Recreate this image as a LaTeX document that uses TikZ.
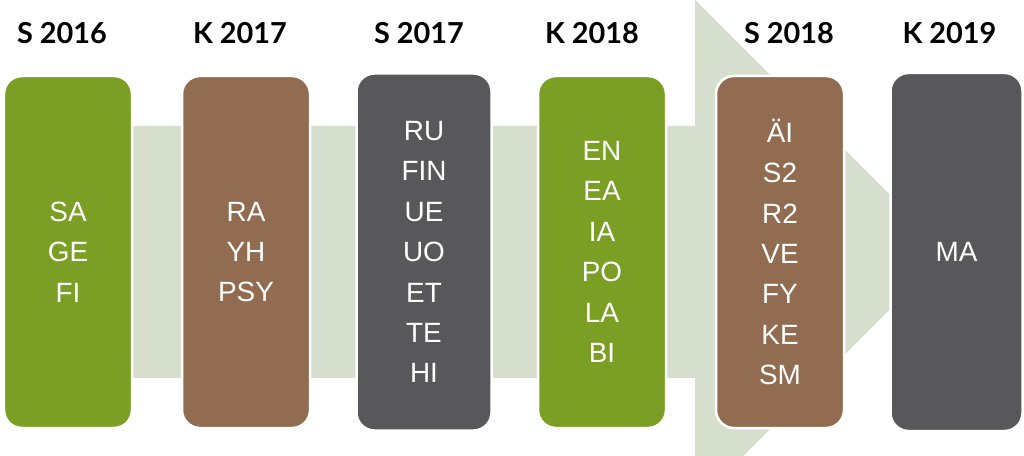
\documentclass[tikz,border=0pt]{standalone}
\usepackage{fontspec}
\setmainfont{Liberation Sans}
\newfontfamily\termfont{Lato}
\usetikzlibrary{positioning}

\definecolor{kgreen}{RGB}{123,159,36}
\definecolor{kbrown}{RGB}{145,108,80}
\definecolor{kgray}{RGB}{88,88,90}
\definecolor{kpale}{RGB}{214,222,205}

\begin{document}
\begin{tikzpicture}[x=1bp,y=-1bp,node distance=178bp,on grid,
  course/.style={rectangle,rounded corners=18bp,draw=white,line width=2.5bp,
    minimum width=128bp,minimum height=352bp,inner sep=0pt,text=white,
    font=\fontsize{28}{40.6}\selectfont,align=center},
  term/.style={font=\termfont\bfseries\fontsize{29}{31}\selectfont,text=black}]

   \useasboundingbox (0,0) rectangle (1024,456);

   % big arrow behind the boxes
   \begin{scope}
     \clip (0,0) rectangle (1024,456);
     \fill[kpale] (20,126) -- (695,126) -- (695,0) -- (947,252)
       -- (695,504) -- (695,378) -- (20,378) -- cycle;
   \end{scope}

   \node[course,fill=kgreen] (s16) at (68,252) {SA\\GE\\FI};
   \node[course,fill=kbrown] (k17) [right=of s16] {RA\\YH\\PSY};
   \node[course,fill=kgray,minimum width=135bp,minimum height=357bp] (s17) [right=of k17] {RU\\FIN\\UE\\UO\\ET\\TE\\HI};
   \node[course,fill=kgreen] (k18) [right=of s17] {EN\\EA\\IA\\PO\\LA\\BI};
   \node[course,fill=kbrown] (s18) [right=of k18] {ÄI\\S2\\R2\\VE\\FY\\KE\\SM};
   \node[course,fill=kgray,minimum width=132bp,minimum height=358bp] (k19) [right=of s18,xshift=-1.5bp] {MA};

   \node[term] (t16s) [above=219bp of s16,xshift=-6bp] {S 2016};
   \node[term] (t17k) [above=219bp of k17,xshift=-6bp] {K 2017};
   \node[term] (t17s) [above=219bp of s17,xshift=-5bp] {S 2017};
   \node[term] (t18k) [above=219bp of k18,xshift=-10bp] {K 2018};
   \node[term] (t18s) [above=219bp of s18,xshift=9bp] {S 2018};
   \node[term] (t19k) [above=219bp of k19,xshift=-7bp] {K 2019};

\end{tikzpicture}
\end{document}
